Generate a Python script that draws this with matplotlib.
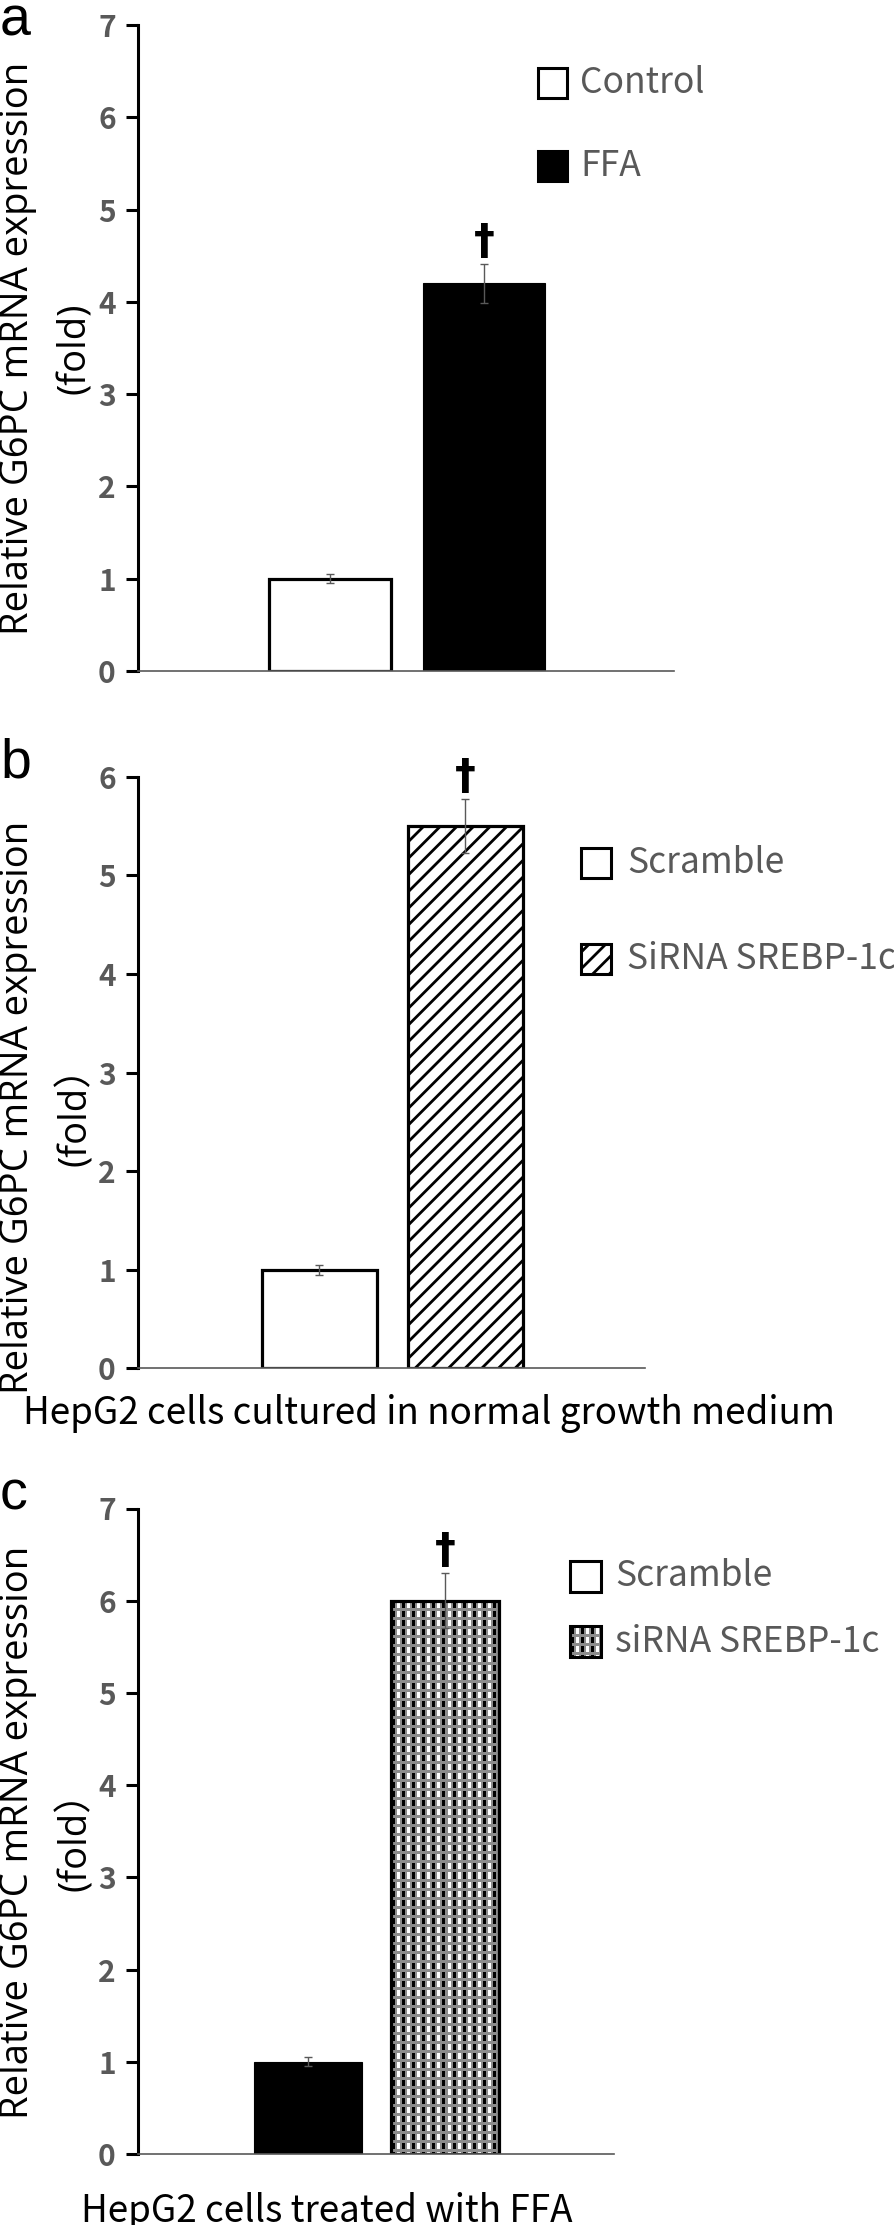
import numpy as np
import matplotlib
matplotlib.use('Agg')
import matplotlib.pyplot as plt
from matplotlib.patches import Rectangle

# ---------------- data ----------------
labels_a = ['Control', 'FFA']
means_a = [1.0, 4.2]
sem_a = [0.05, 0.21]

labels_b = ['Scramble', 'SiRNA SREBP-1c']
means_b = [1.0, 5.5]
sem_b = [0.05, 0.27]

labels_c = ['Scramble', 'siRNA SREBP-1c']
means_c = [1.0, 6.0]
sem_c = [0.05, 0.30]

yticks_a = [0, 1, 2, 3, 4, 5, 6, 7]
yticks_b = [0, 1, 2, 3, 4, 5, 6]
yticks_c = [0, 1, 2, 3, 4, 5, 6, 7]

ylabel_a = ['Relative G6PC mRNA expression', '(fold)']
ylabel_b = ['Relative G6PC mRNA expression', '(fold\uff09']
ylabel_c = ['Relative G6PC mRNA expression', '(fold\uff09']
xlabel_b = 'HepG2 cells cultured in normal growth medium'
xlabel_c = 'HepG2 cells treated with FFA'
sig_mark = '\u2020'
sig_index = 1

# ---------------- style / layout ----------------
W, H, DPI = 894, 2225, 100
GREY = '#595959'
CJK = 'Noto Sans CJK SC'
plt.rcParams['hatch.linewidth'] = 2.0
plt.rcParams['hatch.color'] = 'black'

fig = plt.figure(figsize=(W / DPI, H / DPI), dpi=DPI)
fig.patch.set_facecolor('white')


def fx(px):
    return px / W


def fy(py):
    return 1 - py / H


def texture(nx, ny):
    yy, xx = np.mgrid[0:ny, 0:nx]
    px = xx % 10
    py = yy % 9
    img = np.full((ny, nx), 0.55)
    inrow = (py >= 2) & (py <= 7)
    img[inrow & (px >= 1) & (px <= 3)] = 0.0
    img[inrow & (px >= 6) & (px <= 8)] = 1.0
    return img


WHITE = dict(fc='white', ec='black', hatch=None, tex=False)
BLACK = dict(fc='black', ec='black', hatch=None, tex=False)
HATCH = dict(fc='white', ec='black', hatch='//', tex=False)
TEX = dict(fc='none', ec='black', hatch=None, tex=True)

panels = [
    dict(letter='a', letter_base=36, axpx=(138, 674, 25.0, 671.0),
         labels=labels_a, means=means_a, sem=sem_a, yt=yticks_a, ylabel=ylabel_a,
         ylabel_cy=348, xlabel=None, xlabel_pos=None,
         styles=[WHITE, BLACK], leg_styles=[WHITE, BLACK],
         leg_x=538, leg_s=29, leg_rows=(83, 166), leg_tx=580),
    dict(letter='b', letter_base=777, axpx=(138, 645, 776.7, 1368.4),
         labels=labels_b, means=means_b, sem=sem_b, yt=yticks_b, ylabel=ylabel_b,
         ylabel_cy=1107, xlabel=xlabel_b, xlabel_pos=(835, 1424, 'right'),
         styles=[WHITE, HATCH], leg_styles=[WHITE, HATCH],
         leg_x=581, leg_s=30, leg_rows=(863, 958.5), leg_tx=627),
    dict(letter='c', letter_base=1509, axpx=(138, 614, 1508.5, 2154.0),
         labels=labels_c, means=means_c, sem=sem_c, yt=yticks_c, ylabel=ylabel_c,
         ylabel_cy=1832, xlabel=xlabel_c, xlabel_pos=(327, 2222, 'center'),
         styles=[BLACK, TEX], leg_styles=[WHITE, TEX],
         leg_x=570, leg_s=31, leg_rows=(1576, 1641.5), leg_tx=615),
]

XLIM = (-1.245, 2.233)
BAR_W = 0.79
YLABEL_LINE_X = (18, 75.5)

for p in panels:
    x0, x1, yt_px, yb_px = p['axpx']
    ax = fig.add_axes([fx(x0), fy(yb_px), (x1 - x0) / W, (yb_px - yt_px) / H])
    ax.set_facecolor('none')
    xpos = np.arange(len(p['means']))
    ymax = p['yt'][-1]

    ax.set_xlim(*XLIM)
    ax.set_ylim(0, ymax)

    for i, (m, st) in enumerate(zip(p['means'], p['styles'])):
        if st['tex']:
            l, r = xpos[i] - BAR_W / 2, xpos[i] + BAR_W / 2
            p0 = ax.transData.transform((l, 0))
            p1 = ax.transData.transform((r, m))
            nx = int(round(p1[0] - p0[0]))
            ny = int(round(p1[1] - p0[1]))
            ax.imshow(texture(nx, ny), extent=(l, r, 0, m), aspect='auto',
                      interpolation='nearest', cmap='gray', vmin=0, vmax=1,
                      zorder=1.5)
        ax.bar(xpos[i], m, width=BAR_W, facecolor=st['fc'], edgecolor=st['ec'],
               linewidth=2.3 if st['fc'] != 'black' else 0.8,
               hatch=st['hatch'], zorder=2)

    ax.set_xlim(*XLIM)
    ax.set_ylim(0, ymax)

    ax.errorbar(xpos, p['means'], yerr=p['sem'], fmt='none', ecolor=GREY,
                elinewidth=1.0, capsize=3, capthick=1.0, zorder=4)

    si = sig_index
    ax.annotate(sig_mark, xy=(xpos[si], p['means'][si] + p['sem'][si]),
                xytext=(0, 1), textcoords='offset points', ha='center', va='bottom',
                fontsize=30, fontweight='bold', family='DejaVu Sans',
                annotation_clip=False, zorder=6)

    # spines & ticks
    for s in ('top', 'right'):
        ax.spines[s].set_visible(False)
    ax.spines['left'].set_color('black')
    ax.spines['left'].set_linewidth(2.2)
    ax.spines['bottom'].set_color(GREY)
    ax.spines['bottom'].set_linewidth(1.2)
    ax.set_xticks([])
    ax.set_yticks(p['yt'])
    ax.set_yticklabels([str(t) for t in p['yt']], fontfamily=CJK,
                       fontweight='black', fontsize=21.5, color=GREY)
    ax.tick_params(axis='y', direction='out', length=9, width=2.2, color='black', pad=7)

    # y label: two lines, each centred on its own column
    for line, lx in zip(p['ylabel'], YLABEL_LINE_X):
        fig.text(fx(lx), fy(p['ylabel_cy']), line, family=['Open Sans', CJK],
                 fontsize=27.5, color='black', rotation=90, ha='center', va='center',
                 rotation_mode='anchor')

    # x label
    if p['xlabel']:
        cx, base, ha = p['xlabel_pos']
        ax.set_xlabel(p['xlabel'], family=CJK, fontsize=26.5, color='black',
                      ha=ha, va='baseline')
        ax.xaxis.set_label_coords((cx - x0) / (x1 - x0), (yb_px - base) / (yb_px - yt_px))

    # panel letter
    fig.text(fx(0), fy(p['letter_base']), p['letter'], family='Liberation Sans',
             fontsize=40, color='black', ha='left', va='baseline')

    # legend (manual)
    s = p['leg_s']
    for lab, st, cy in zip(p['labels'], p['leg_styles'], p['leg_rows']):
        if st['tex']:
            fig.figimage(texture(int(s), int(s)), xo=int(p['leg_x']),
                         yo=int(round(H - (cy + s / 2))), origin='upper',
                         cmap='gray', vmin=0, vmax=1, zorder=1)
        rect = Rectangle((fx(p['leg_x']), fy(cy + s / 2)), s / W, s / H,
                         transform=fig.transFigure, facecolor=st['fc'],
                         edgecolor='black', linewidth=2.2, hatch=st['hatch'],
                         zorder=3)
        fig.add_artist(rect)
        fig.text(fx(p['leg_tx']), fy(cy), lab, family=CJK, fontsize=25.5,
                 color=GREY, ha='left', va='center')

fig.savefig('out.png', dpi=DPI, facecolor='white')
